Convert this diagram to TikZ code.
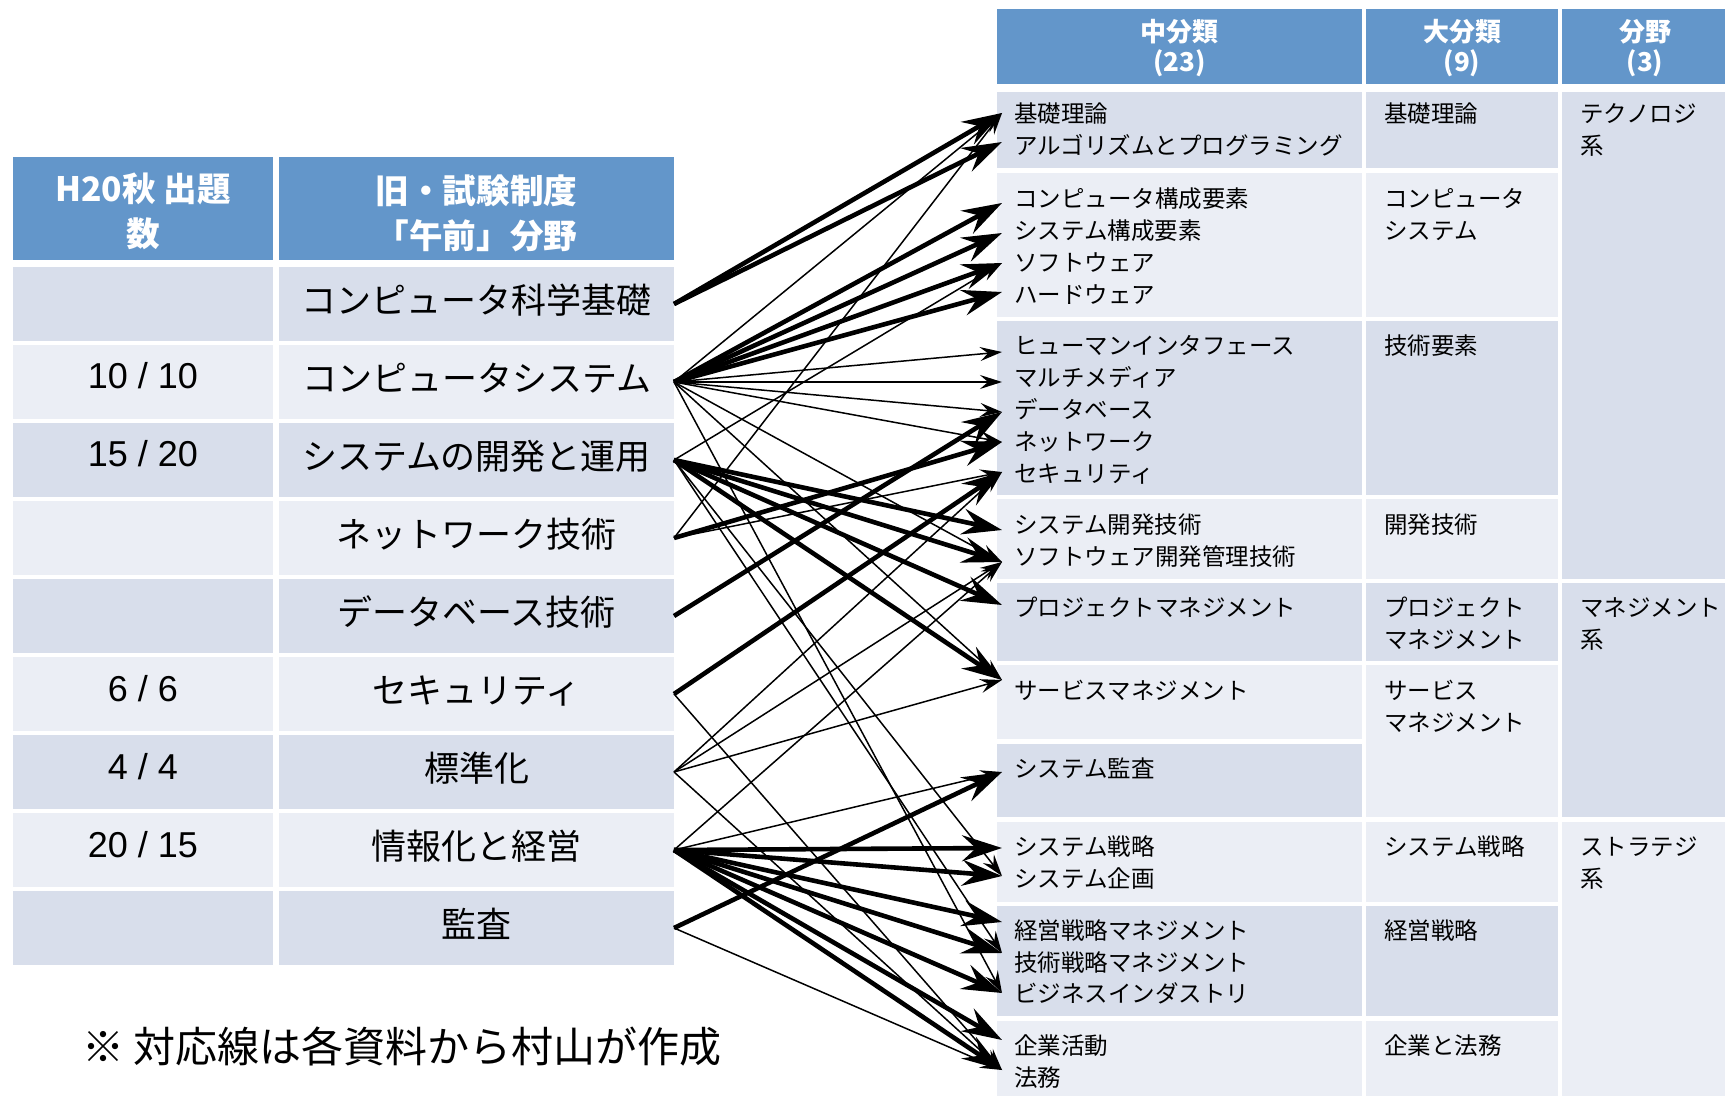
\documentclass[tikz,border=0pt]{standalone}
\usepackage{fontspec}
\setmainfont{Noto Sans CJK JP}
\newfontfamily\numfont{Liberation Sans}
\usetikzlibrary{arrows.meta}
\definecolor{hdr}{HTML}{6396CA}
\definecolor{dk}{HTML}{D8DEEB}
\definecolor{lt}{HTML}{EBEEF5}
\begin{document}
\begin{tikzpicture}[x=0.5pt,y=-0.5pt,
  box/.style={draw=none,inner sep=0pt,outer sep=0pt},
  lhead/.style={inner sep=0pt,align=center,text=white,font=\bfseries\fontsize{16.8}{22.5}\selectfont},
  rhead/.style={inner sep=0pt,align=center,text=white,font=\bfseries\fontsize{13}{15}\selectfont},
  lname/.style={inner sep=0pt,text height=15.4pt,text depth=2.1pt,font=\fontsize{17.5}{21}\selectfont},
  lnum/.style={inner sep=0pt,text height=13pt,text depth=0pt,font=\numfont\fontsize{18}{21}\selectfont},
  rtext/.style={inner sep=0pt,anchor=west,text height=10.3pt,text depth=1.4pt,font=\fontsize{11.75}{16}\selectfont},
  thickarr/.style={line width=2.3pt,-{Stealth[length=20pt,width=13pt,inset=7pt]}},
  thinarr/.style={line width=0.75pt,-{Stealth[length=11pt,width=7pt,inset=4pt]}}
]
\useasboundingbox (0,0) rectangle (1725,1096);

% ---------- left table ----------
\node[box,fill=hdr,minimum width=130pt,minimum height=51.5pt] (lh1) at (143,208.5) {};
\node[box,fill=hdr,minimum width=197.5pt,minimum height=51.5pt] (lh2) at (476.5,208.5) {};
\node[lhead] (lh1t) at (143,211) {H20秋 出題\\数};
\node[lhead] (lh2t) at (476.5,213) {旧・試験制度\\「午前」分野};

\foreach \i/\c in {1/dk,2/lt,3/dk,4/lt,5/dk,6/lt,7/dk,8/lt,9/dk}{
  \node[box,fill=\c,minimum width=130pt,minimum height=37pt] (n\i) at (143,{304+(\i-1)*78}) {};
  \node[box,fill=\c,minimum width=197.5pt,minimum height=37pt] (r\i) at (476.5,{304+(\i-1)*78}) {};
}
\foreach \i/\t in {1/コンピュータ科学基礎,2/コンピュータシステム,3/システムの開発と運用,4/ネットワーク技術,5/データベース技術,6/セキュリティ,7/標準化,8/情報化と経営,9/監査}{
  \node[lname] (rt\i) at (476.5,{300+(\i-1)*78}) {\t};
}
\node[lnum] (nt2) at (143,{298+78}) {10 / 10};
\node[lnum] (nt3) at (143,{298+2*78}) {15 / 20};
\node[lnum] (nt6) at (143,{298+5*78}) {6 / 6};
\node[lnum] (nt7) at (143,{298+6*78}) {4 / 4};
\node[lnum] (nt8) at (143,{298+7*78}) {20 / 15};

% ---------- right table ----------
\node[box,fill=hdr,minimum width=182.5pt,minimum height=37.5pt] (rh1) at (1179.5,46.5) {};
\node[box,fill=hdr,minimum width=96pt,minimum height=37.5pt] (rh2) at (1462,46.5) {};
\node[box,fill=hdr,minimum width=83pt,minimum height=37.5pt] (rh3) at (1645,46.5) {};
\node[rhead] (rh1t) at (1179.5,48) {中分類\\(23)};
\node[rhead] (rh2t) at (1462,48) {大分類\\(9)};
\node[rhead] (rh3t) at (1645,48) {分野\\(3)};

% column A cells (top/bottom in px)
\foreach \n/\a/\b/\c in {A/92/168/dk,B/173/317/lt,C/321/495/dk,D/499/579/lt,E/583/661/dk,F/665/739/lt,G/744/817/dk,H/822/902/lt,I/906/1016/dk,J/1021/1100/lt}{
  \node[box,fill=\c,minimum width=182.5pt,minimum height={(\b-\a)*0.5pt}] (ca\n) at (1179.5,{(\a+\b)/2}) {};
}
% column B cells
\foreach \n/\a/\b/\c in {A/92/168/dk,B/173/317/lt,C/321/495/dk,D/499/579/lt,E/583/661/dk,F/665/817/lt,H/822/902/lt,I/906/1016/dk,J/1021/1100/lt}{
  \node[box,fill=\c,minimum width=96pt,minimum height={(\b-\a)*0.5pt}] (cb\n) at (1462,{(\a+\b)/2}) {};
}
% column C cells
\foreach \n/\a/\b/\c in {T/92/579/dk,M/583/817/dk,S/822/1100/lt}{
  \node[box,fill=\c,minimum width=83pt,minimum height={(\b-\a)*0.5pt}] (cc\n) at (1645,{(\a+\b)/2}) {};
}

% column A texts
\foreach \n/\y/\t in {a1/114/基礎理論,a2/146/アルゴリズムとプログラミング,
  a3/199/コンピュータ構成要素,a4/231/システム構成要素,a5/263/ソフトウェア,a6/295/ハードウェア,
  a7/346/ヒューマンインタフェース,a8/378/マルチメディア,a9/410/データベース,a10/442/ネットワーク,a11/474/セキュリティ,
  a12/525/システム開発技術,a13/557/ソフトウェア開発管理技術,
  a14/608/プロジェクトマネジメント,a15/691/サービスマネジメント,a16/769/システム監査,
  a17/847/システム戦略,a18/879/システム企画,
  a19/931/経営戦略マネジメント,a20/963/技術戦略マネジメント,a21/994/ビジネスインダストリ,
  a22/1046/企業活動,a23/1078/法務}{
  \node[rtext] (\n) at (1014,\y) {\t};
}
% column B texts
\foreach \n/\y/\t in {b1/114/基礎理論,b2/199/コンピュータ,b3/231/システム,b4/346/技術要素,b5/525/開発技術,
  b6/608/プロジェクト,b7/640/マネジメント,b8/691/サービス,b9/723/マネジメント,
  b10/847/システム戦略,b11/931/経営戦略,b12/1046/企業と法務}{
  \node[rtext] (\n) at (1384,\y) {\t};
}
% column C texts
\foreach \n/\y/\t in {c1/114/テクノロジ,c2/146/系,c3/608/マネジメント,c4/640/系,c5/847/ストラテジ,c6/879/系}{
  \node[rtext] (\n) at (1580,\y) {\t};
}

% footnote
\node[inner sep=0pt,anchor=west,text height=18.5pt,text depth=2.5pt,font=\fontsize{21}{24}\selectfont] (note) at (82,1046) {※ 対応線は各資料から村山が作成};

% ---------- arrow targets ----------
\foreach \i/\y in {1/113,2/142,3/203,4/233,5/263,6/292,7/352,8/382,9/412,10/442,11/472,12/530,13/562,14/605,15/680,16/772,17/848,18/876,19/922,20/953,21/993,22/1040,23/1070}{
  \coordinate (t\i) at (1002,\y);
}

% ---------- thin arrows ----------
\foreach \s/\t in {2/1,2/7,2/8,2/9,2/10,2/13,2/15,2/21,3/5,3/18,3/20,4/1,4/11,6/23,7/11,7/13,7/15,7/23,8/13,8/16,9/23}{
  \draw[thinarr] (r\s.east) -- (t\t);
}
% ---------- thick arrows ----------
\foreach \s/\t in {1/1,1/2,2/3,2/4,2/5,2/6,3/12,3/13,3/14,3/15,4/10,5/9,6/11,8/17,8/18,8/19,8/20,8/21,8/22,8/23,9/16}{
  \draw[thickarr] (r\s.east) -- (t\t);
}
\end{tikzpicture}
\end{document}
